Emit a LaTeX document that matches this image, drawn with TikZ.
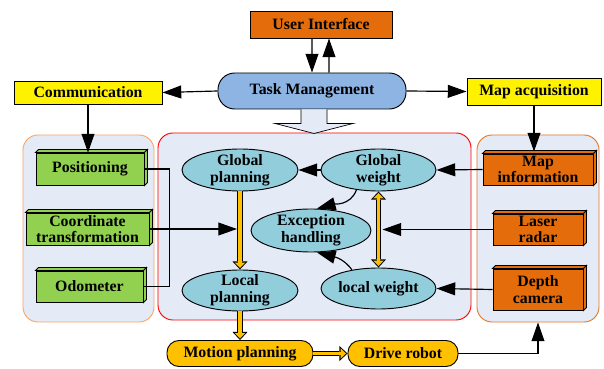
\documentclass[tikz,border=0pt]{standalone}
\usepackage{fontspec}
\setmainfont{Liberation Serif}
\usetikzlibrary{arrows.meta,shapes.geometric}

\definecolor{uiorange}{RGB}{228,108,10}
\definecolor{tmblue}{RGB}{141,180,226}
\definecolor{boxgreen}{RGB}{146,208,80}
\definecolor{ovalteal}{RGB}{146,205,220}
\definecolor{panelfill}{RGB}{229,235,246}
\definecolor{leftedge}{RGB}{248,166,104}
\definecolor{rightedge}{RGB}{228,120,40}
\definecolor{gold}{RGB}{255,192,0}

\tikzset{
  panel/.style={draw,line width=0.8pt,fill=panelfill,rounded corners=0.45cm},
  plainbox/.style={draw,line width=0.8pt},
  pill/.style={draw,line width=0.8pt,rounded corners=0.5cm},
  smallpill/.style={draw,line width=0.8pt,fill=gold,rounded corners=0.36cm},
  cube/.style={draw,line width=0.8pt},
  oval/.style={ellipse,draw,line width=0.8pt,fill=ovalteal,inner ysep=-1.5pt},
  link/.style={line width=1pt},
  arr/.style={line width=1pt,-{Triangle[length=16pt 0 0,width=11pt 0 0]}},
  goldarr/.style={line width=5pt,draw=black,-{Triangle[length=7pt 0 0,width=13pt 0 0,line width=0pt]},
    postaction={draw=gold,line width=3.2pt,shorten >=1.3pt,-{Triangle[length=4.6pt 0 0,width=9pt 0 0,line width=0pt]}}},
  goldboth/.style={line width=5pt,draw=black,{Triangle[length=7pt 0 0,width=13pt 0 0,line width=0pt]}-{Triangle[length=7pt 0 0,width=13pt 0 0,line width=0pt]},
    postaction={draw=gold,line width=3.2pt,shorten >=1.3pt,shorten <=1.3pt,{Triangle[length=4.6pt 0 0,width=9pt 0 0,line width=0pt]}-{Triangle[length=4.6pt 0 0,width=9pt 0 0,line width=0pt]}}},
  hollowarr/.style={draw,line width=0.6pt,fill=panelfill}
}

\begin{document}
\begin{tikzpicture}[x=0.03cm,y=-0.03cm,every node/.style={font=\bfseries\fontsize{13.5}{14.2}\selectfont,inner sep=0pt,align=center}]
\useasboundingbox (0,0) rectangle (604,369);

% panels
\node[panel,draw=leftedge,minimum width=3.93cm,minimum height=5.61cm] (lpanel) at (88.5,228.5) {};
\node[panel,draw=red,minimum width=9.39cm,minimum height=5.61cm] (mpanel) at (314.5,226.5) {};
\node[panel,draw=rightedge,minimum width=3.66cm,minimum height=5.61cm] (rpanel) at (538,228.5) {};

% top row
\node[plainbox,fill=uiorange,minimum width=4.26cm,minimum height=0.81cm] (ui) at (321,24.5) {User Interface};
\node[pill,fill=tmblue,minimum width=5.64cm,minimum height=1.08cm] (tm) at (312,91) {Task Management};
\node[plainbox,fill=yellow,minimum width=4.44cm,minimum height=0.69cm] (comm) at (88,92.5) {Communication};
\node[plainbox,fill=yellow,minimum width=4.02cm,minimum height=0.81cm] (mapacq) at (534,91.5) {Map acquisition};

\draw[hollowarr] (tm.south) ++(-11,0) -- ++(0,14) -- ++(-26,0) -- ++(39,10) -- ++(39,-10) -- ++(-26,0) -- ++(0,-14);

% sensor boxes
\node[cube,fill=boxgreen,minimum width=3.24cm,minimum height=0.96cm] (pos) at (90,169) {Positioning};
\node[cube,fill=boxgreen,minimum width=3.69cm,minimum height=0.96cm] (coord) at (87.5,229) {Coordinate\\transformation};
\node[cube,fill=boxgreen,minimum width=3.21cm,minimum height=0.93cm] (odo) at (89.5,286.5) {Odometer};
\node[cube,fill=uiorange,minimum width=3.3cm,minimum height=0.93cm] (mapinfo) at (538,169.5) {Map\\information};
\node[cube,fill=uiorange,minimum width=2.7cm,minimum height=0.93cm] (laser) at (538,229.5) {Laser\\radar};
\node[cube,fill=uiorange,minimum width=2.7cm,minimum height=1.23cm] (depth) at (538,289.5) {Depth\\camera};

\foreach \b/\c in {pos/boxgreen,coord/boxgreen,odo/boxgreen,mapinfo/uiorange,laser/uiorange,depth/uiorange}{
  \draw[cube,fill=\c] (\b.north west) -- ++(3,-3) -- ([shift={(3,-3)}]\b.north east) -- (\b.north east) -- cycle;
  \draw[cube,fill=\c] (\b.north east) -- ++(3,-3) -- ([shift={(3,-3)}]\b.south east) -- (\b.south east) -- cycle;
}

% planning ovals
\node[oval,minimum width=3.48cm,minimum height=1.26cm] (gp) at (240,170) {Global\\planning};
\node[oval,minimum width=3.45cm,minimum height=1.26cm] (gw) at (378.5,170) {Global\\weight};
\node[oval,minimum width=3.6cm,minimum height=1.29cm] (exc) at (311,230.5) {Exception\\handling};
\node[oval,minimum width=3.48cm,minimum height=1.23cm] (lp) at (240,290.5) {Local\\planning};
\node[oval,minimum width=3.45cm,minimum height=1.23cm] (lw) at (378.5,288.5) {local weight};

% bottom row
\node[smallpill,minimum width=4.38cm,minimum height=0.78cm] (mp) at (240,353.5) {Motion planning};
\node[smallpill,minimum width=3.3cm,minimum height=0.78cm] (dr) at (403,353.5) {Drive robot};

% connectors
\draw[arr] ([xshift=-0.27cm]ui.south) -- (tm.north);
\draw[arr] ([xshift=0.51cm]tm.north) -- ([xshift=0.24cm]ui.south);
\draw[arr] (tm.west) -- (comm.east);
\draw[arr] (tm.east) -- (mapacq.west);
\draw[arr] (comm.south) -- (comm.south |- pos.north);
\draw[arr] (mapacq.south) -- ([yshift=0.06cm]mapacq.south |- mapinfo.north);

\draw[link] (pos.east) -- ++(25,0) |- (odo.east);
\coordinate (ctend) at ([xshift=-0.09cm]gp.south |- coord.east);
\draw[arr] (coord.east) -- (ctend);

\draw[arr] (mapinfo.west) -- (gw.east);
\coordinate (lrend) at ([xshift=0.12cm]gw.south |- laser.west);
\draw[arr] (laser.west) -- (lrend);
\draw[arr] (depth.west) -- (lw.east);

\draw[arr] (gw.west) -- (gp.east);
\draw[arr] (gw.222) to[out=250,in=15] (exc.75);
\draw[arr] (lw.145) to[out=125,in=-15] (exc.285);

\draw[goldarr] (gp.south) -- (lp.north);
\draw[goldboth] (gw.south) -- (lw.north);
\draw[goldarr] (lp.south) -- (mp.north);
\draw[goldarr] (mp.east) -- (dr.west);

\draw[arr] (dr.east) -| (rpanel.south);

\end{tikzpicture}
\end{document}
